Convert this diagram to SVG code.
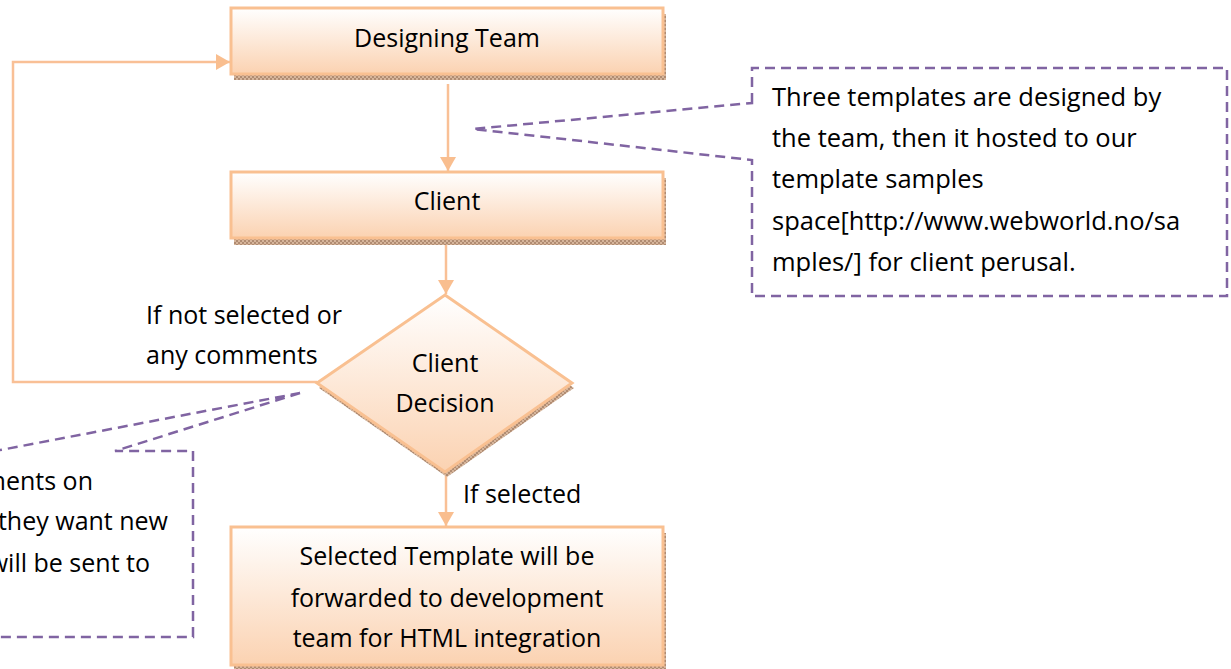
<svg xmlns="http://www.w3.org/2000/svg" width="1231" height="669" viewBox="0 0 1231 669">
<style>
  text { font-family: "Open Sans", "Liberation Sans", sans-serif; font-size: 25px; fill: #000; }
  .big { font-size: 25.5px; }
  .c { text-anchor: middle; }
  .e { text-anchor: end; }
  .box { fill: url(#fillG); stroke: #f9c091; stroke-width: 3; }
  .shadow { fill: url(#shadowP); }
  .conn { fill: none; stroke: #f9c096; stroke-width: 2.5; }
  .callout { fill: none; stroke: #8064a2; stroke-width: 2.5; stroke-dasharray: 10 6; }
</style>
<defs>
  <linearGradient id="fillG" x1="0" y1="0" x2="0" y2="1">
    <stop offset="0" stop-color="#ffffff"/>
    <stop offset="1" stop-color="#fbd2b1"/>
  </linearGradient>
  <pattern id="shadowP" width="4" height="4" patternUnits="userSpaceOnUse">
    <rect width="4" height="4" fill="#d6b59b"/>
    <rect width="2" height="2" fill="#b08c72"/>
    <rect x="2" y="2" width="2" height="2" fill="#b08c72"/>
  </pattern>
  <marker id="arr" markerWidth="16" markerHeight="16" viewBox="0 0 16 16" refX="14" refY="8" orient="auto" markerUnits="userSpaceOnUse">
    <path d="M0,0 L14,8 L0,16 Z" fill="#f9be8f"/>
  </marker>
</defs>
<rect width="1231" height="669" fill="#ffffff"/>

<g id="connectors">
  <path class="conn" d="M448,84 L448,171" marker-end="url(#arr)"/>
  <path class="conn" d="M446,245 L446,294" marker-end="url(#arr)"/>
  <path class="conn" d="M446,474 L446,526" marker-end="url(#arr)"/>
  <path class="conn" d="M317,382 L13,382 L13,62 L230,62" marker-end="url(#arr)"/>
  <text x="146" y="324">If not selected or</text>
  <text x="146" y="364">any comments</text>
  <text x="463" y="503">If selected</text>
</g>

<g id="designing-team">
  <rect class="shadow" x="234" y="14" width="432" height="66"/>
  <rect class="box" x="231" y="8" width="432" height="66"/>
  <text class="c" x="447" y="47">Designing Team</text>
</g>

<g id="client">
  <rect class="shadow" x="234" y="178" width="432" height="67"/>
  <rect class="box" x="231" y="172" width="432" height="66"/>
  <text class="c" x="447" y="210">Client</text>
</g>

<g id="client-decision">
  <polygon class="shadow" points="447,300 574,388 447,477 319,388"/>
  <polygon class="box" points="445,295 572,383 445,472 317,383"/>
  <text class="c" x="445" y="372">Client</text>
  <text class="c" x="445" y="412">Decision</text>
</g>

<g id="selected-template">
  <rect class="shadow" x="234" y="533" width="432" height="138"/>
  <rect class="box" x="231" y="527" width="432" height="138"/>
  <text class="c" x="447" y="565">Selected Template will be</text>
  <text class="c" x="447" y="607">forwarded to development</text>
  <text class="c" x="447" y="647">team for HTML integration</text>
</g>

<g id="callout-right">
  <path class="callout" d="M752,103 L752,68 L1227,68 L1227,296 L752,296 L752,160 L473,129 Z"/>
  <text class="big" x="772" y="106">Three templates are designed by</text>
  <text class="big" x="772" y="147">the team, then it hosted to our</text>
  <text class="big" x="772" y="188">template samples</text>
  <text class="big" x="772" y="230">space[http://www.webworld.no/sa</text>
  <text class="big" x="772" y="271">mples/] for client perusal.</text>
</g>

<g id="callout-left">
  <path class="callout" d="M300,393 L115,451 L193,451 L193,637 L-10,637 L-10,452 Z"/>
  <text class="e" x="93" y="490">ments on</text>
  <text class="e" x="168" y="530">they want new</text>
  <text class="e" x="150" y="572">will be sent to</text>
</g>
</svg>
